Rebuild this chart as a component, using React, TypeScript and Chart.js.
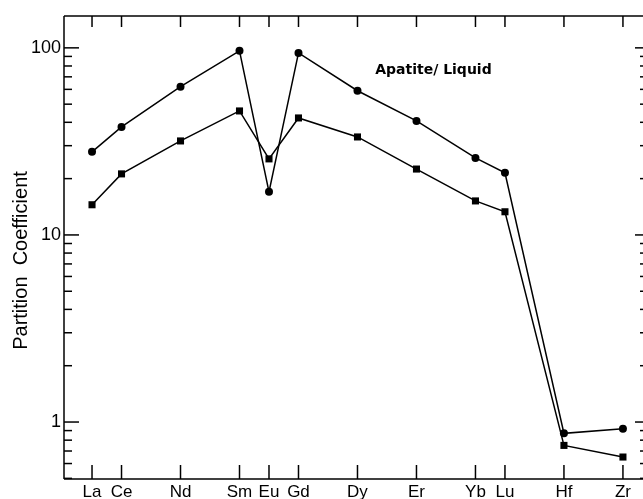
import React, { useEffect, useRef } from 'react';
import { Chart, registerables } from 'chart.js';

Chart.register(...registerables);

const elements = ['La', 'Ce', 'Nd', 'Sm', 'Eu', 'Gd', 'Dy', 'Er', 'Yb', 'Lu', 'Hf', 'Zr'];
const xPositions = [57, 58, 60, 62, 63, 64, 66, 68, 70, 71, 73, 75];
const circleSeries = [27.8, 37.8, 62, 96.4, 17, 94, 59, 40.7, 25.8, 21.5, 0.87, 0.92];
const squareSeries = [14.5, 21.2, 31.8, 46, 25.5, 42.2, 33.4, 22.5, 15.2, 13.3, 0.75, 0.65];
const yMajorTicks = [1, 10, 100];
const yAxisTitle = 'Partition  Coefficient';
const annotationText = 'Apatite/ Liquid';

const FONT = '"Liberation Sans", Arial, sans-serif';

const framePlugin = {
  id: 'frame',
  afterDraw(chart: any) {
    const { ctx, chartArea, scales } = chart;
    const { left, right, top, bottom } = chartArea;
    const x = scales.x;
    const y = scales.y;
    ctx.save();
    ctx.strokeStyle = '#000';
    ctx.lineWidth = 1.5;
    const seg = (x1: number, y1: number, x2: number, y2: number) => {
      ctx.beginPath();
      ctx.moveTo(x1, y1);
      ctx.lineTo(x2, y2);
      ctx.stroke();
    };
    // axes lines
    seg(left, top, right, top);
    seg(left, top, left, bottom);
    seg(left, bottom, right, bottom);
    // x ticks (inner, top and bottom)
    xPositions.forEach((v) => {
      const px = x.getPixelForValue(v);
      seg(px, bottom, px, bottom - 14);
      seg(px, top, px, top + 11);
    });
    // y ticks (inner, left and right)
    [0.1, 1, 10, 100].forEach((d) => {
      for (let m = 1; m <= 9; m++) {
        const v = d * m;
        if (v < y.min || v > y.max) continue;
        const py = y.getPixelForValue(v);
        const major = m === 1;
        seg(left, py, left + (major ? 15 : 8), py);
        seg(right, py, right - (major ? 8 : 3), py);
      }
    });
    // annotation
    ctx.fillStyle = '#000';
    ctx.font = 'bold 14px "DejaVu Sans", sans-serif';
    ctx.textAlign = 'left';
    ctx.textBaseline = 'middle';
    ctx.fillText(annotationText, x.getPixelForValue(66.6), y.getPixelForValue(76));
    // y title
    ctx.font = '20px ' + FONT;
    ctx.textAlign = 'center';
    ctx.translate(21, (top + bottom) / 2 + 13);
    ctx.rotate(-Math.PI / 2);
    ctx.fillText(yAxisTitle, 0, 0);
    ctx.restore();
  },
};

export default function App() {
  const ref = useRef<HTMLCanvasElement | null>(null);
  useEffect(() => {
    if (!ref.current) return;
    const chart = new Chart(ref.current, {
      type: 'line',
      data: {
        datasets: [
          {
            data: xPositions.map((xv, i) => ({ x: xv, y: circleSeries[i] })),
            borderColor: '#000',
            backgroundColor: '#000',
            borderWidth: 1.5,
            pointStyle: 'circle',
            pointRadius: 4,
            pointBorderWidth: 0,
            tension: 0,
          },
          {
            data: xPositions.map((xv, i) => ({ x: xv, y: squareSeries[i] })),
            borderColor: '#000',
            backgroundColor: '#000',
            borderWidth: 1.5,
            pointStyle: 'rect',
            pointRadius: 5,
            pointBorderWidth: 0,
            tension: 0,
          },
        ],
      },
      options: {
        animation: false,
        responsive: false,
        layout: { autoPadding: false, padding: { top: 16, right: 0, bottom: 0, left: 0 } },
        plugins: { legend: { display: false }, tooltip: { enabled: false } },
        scales: {
          x: {
            type: 'linear',
            min: 56.05,
            max: 75.68,
            bounds: 'data',
            grid: { display: false, drawTicks: false },
            border: { display: false },
            afterBuildTicks: (s: any) => {
              s.ticks = xPositions.map((v) => ({ value: v }));
            },
            afterFit: (s: any) => {
              s.height = 20;
              s.paddingLeft = 0;
              s.paddingRight = 0;
            },
            ticks: {
              autoSkip: false,
              maxRotation: 0,
              padding: 3,
              color: '#000',
              font: { family: FONT, size: 17 },
              callback: (_v: any, i: number) => elements[i],
            },
          },
          y: {
            type: 'logarithmic',
            min: 0.496,
            max: 148,
            bounds: 'data',
            grid: { display: false, drawTicks: false },
            border: { display: false },
            afterBuildTicks: (s: any) => {
              s.ticks = yMajorTicks.map((v) => ({ value: v }));
            },
            afterFit: (s: any) => {
              s.width = 64;
              s.paddingTop = 0;
              s.paddingBottom = 0;
            },
            ticks: {
              padding: 3,
              color: '#000',
              font: { family: FONT, size: 18 },
              callback: (v: any) => String(v),
            },
          },
        },
      } as any,
      plugins: [framePlugin],
    });
    return () => chart.destroy();
  }, []);
  return (
    <div style={{ position: 'fixed', left: 0, top: 0, width: 643, height: 499, background: '#fff' }}>
      <canvas ref={ref} width={643} height={499} style={{ display: 'block' }} />
    </div>
  );
}
